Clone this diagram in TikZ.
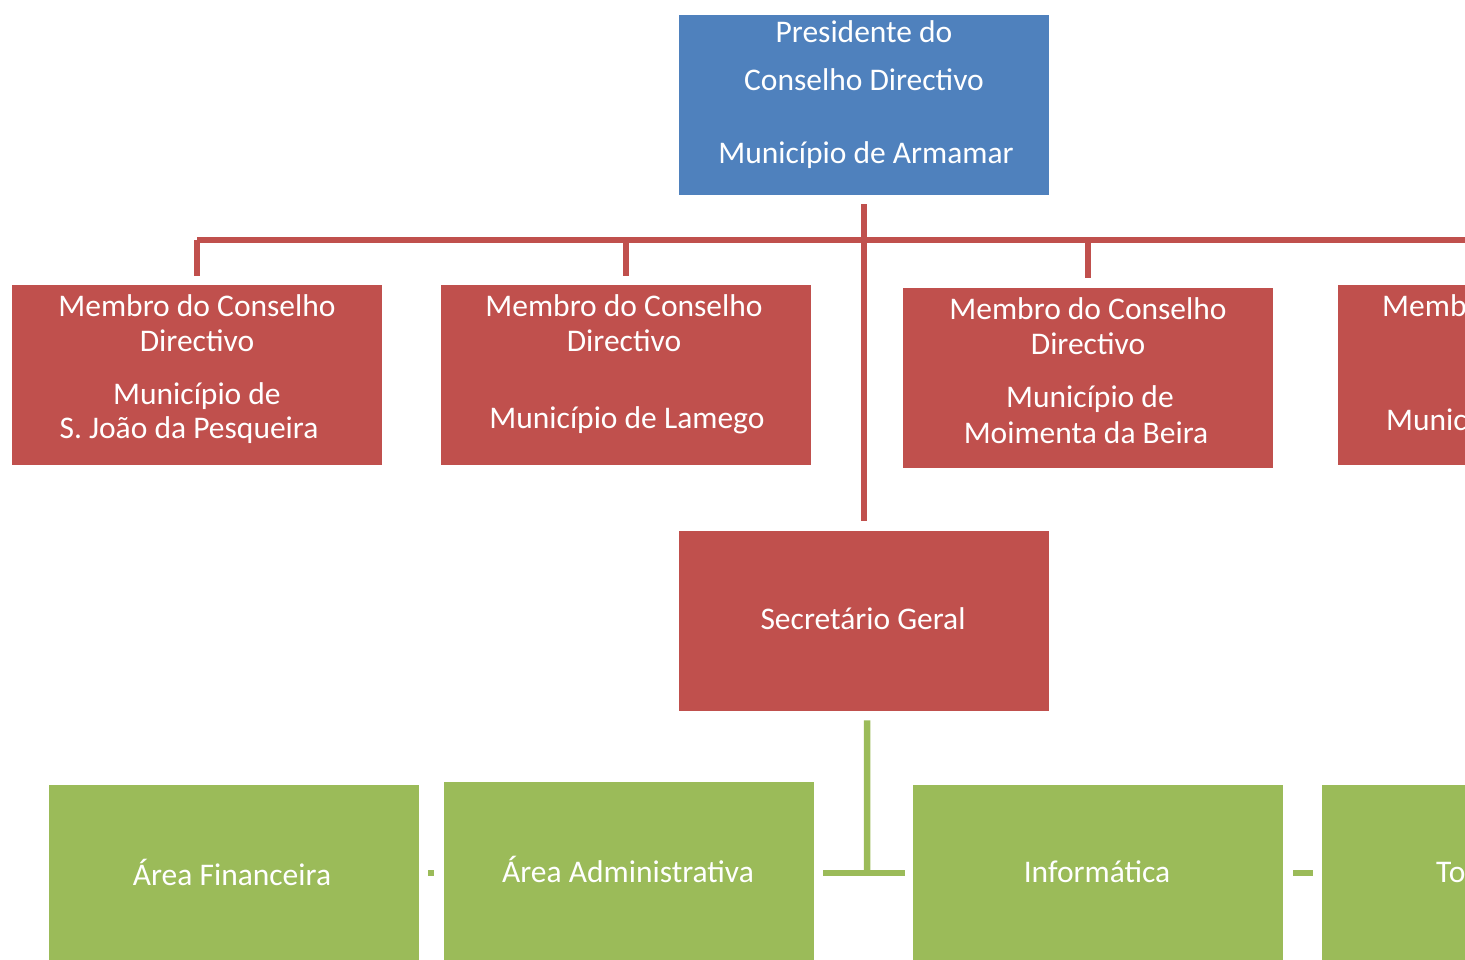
\documentclass[tikz,border=0pt]{standalone}
\usepackage{fontspec}
\setmainfont{Carlito}
\definecolor{cblue}{HTML}{4F81BD}
\definecolor{cred}{HTML}{C0504D}
\definecolor{cgreen}{HTML}{9BBB59}
\begin{document}
\begin{tikzpicture}[x=1pt,y=-1pt,
  box/.style={rectangle, minimum width=370pt, minimum height=180pt, inner sep=0pt, anchor=north west},
  bluebox/.style={box, fill=cblue},
  redbox/.style={box, fill=cred},
  greenbox/.style={box, fill=cgreen},
  lbl/.style={text=white, font=\fontsize{31.5}{37}\selectfont, inner sep=0pt},
  redline/.style={draw=cred, line width=6.5pt},
  greenline/.style={draw=cgreen, line width=6.5pt},
]
\useasboundingbox (0,0) rectangle (1465,959);
\clip (0,0) rectangle (1465,959);

% boxes
\node[bluebox] (pres) at (679,15) {};
\node[redbox] (m1) at (12,285) {};
\node[redbox] (m2) at (441,285) {};
\node[redbox] (m3) at (903,288) {};
\node[redbox] (m4) at (1338,285) {};
\node[redbox] (sec) at (679,531) {};
\node[greenbox] (g1) at (49,785) {};
\node[greenbox] (g2) at (444,782) {};
\node[greenbox] (g3) at (913,785) {};
\node[greenbox] (g4) at (1322,785) {};

% labels
\node[lbl] (pt1) at (864,32) {Presidente do};
\node[lbl] (pt2) at (864,80) {Conselho Directivo};
\node[lbl] (pt3) at (866,155) {Município de Armamar};

\node[lbl] (a1) at (197,306) {Membro do Conselho};
\node[lbl] (a2) at (197,341) {Directivo};
\node[lbl] (a3) at (197,396) {Município de};
\node[lbl] (a4) at (189,430) {S. João da Pesqueira};

\node[lbl] (b1) at (624,306) {Membro do Conselho};
\node[lbl] (b2) at (624,341) {Directivo};
\node[lbl] (b3) at (627,420) {Município de Lamego};

\node[lbl] (c1) at (1088,309) {Membro do Conselho};
\node[lbl] (c2) at (1088,344) {Directivo};
\node[lbl] (c3) at (1090,399) {Município de};
\node[lbl] (c4) at (1086,433) {Moimenta da Beira};

\node[lbl, anchor=west] (d1) at (1382,306) {Memb};
\node[lbl, anchor=west] (d3) at (1386,420) {Munic};

\node[lbl] (st) at (863,619) {Secretário Geral};

\node[lbl] (e1) at (232,872) {Área Financeira};
\node[lbl] (e2) at (628,869) {Área Administrativa};
\node[lbl] (e3) at (1097,872) {Informática};
\node[lbl, anchor=west] (e4) at (1436,872) {To};

% red connectors
\coordinate (bus) at (864,240);
\draw[redline] ([yshift=-9pt]pres.south) -- ([yshift=10pt]sec.north);
\draw[redline] (m1.north |- bus) -- (m4.north |- bus);
\draw[redline] (m1.north |- bus) -- ([yshift=9pt]m1.north);
\draw[redline] (m2.north |- bus) -- ([yshift=9pt]m2.north);
\draw[redline] (m3.north |- bus) -- ([yshift=10pt]m3.north);
\draw[redline] (m4.north |- bus) -- ([yshift=9pt]m4.north);

% green connectors
\coordinate (tj) at (867,873);
\draw[greenline] ([xshift=3pt,yshift=-9pt]sec.south) -- (tj);
\draw[greenline] ([xshift=9pt]g2.east |- tj) -- ([xshift=-8pt]g3.west |- tj);
\draw[greenline] ([xshift=9pt]g1.east |- tj) -- ([xshift=-10pt]g2.west |- tj);
\draw[greenline] ([xshift=10pt]g3.east |- tj) -- ([xshift=-9pt]g4.west |- tj);
\end{tikzpicture}
\end{document}
